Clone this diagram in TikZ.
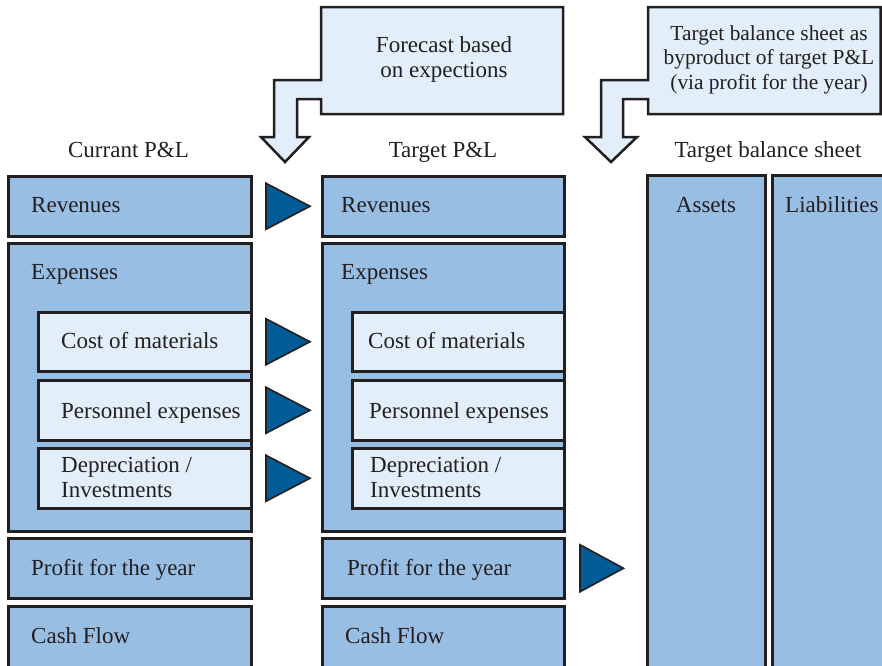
\documentclass[tikz,border=0pt]{standalone}
\usepackage{fontspec}
\setmainfont{Liberation Serif}
\usetikzlibrary{calc}
\definecolor{boxC}{RGB}{153,190,228}
\definecolor{subC}{RGB}{226,238,249}
\definecolor{triC}{RGB}{0,91,150}
\definecolor{lineC}{RGB}{35,31,32}
\definecolor{txtC}{RGB}{35,31,32}
\newcommand{\mainsz}{\fontsize{23}{24.7}\selectfont}
\newcommand{\smallsz}{\fontsize{21.4}{24.5}\selectfont}
\begin{document}
\begin{tikzpicture}[x=1pt,y=-1pt,
  box/.style={draw=lineC, line width=2.5pt, fill=boxC, inner sep=0pt, anchor=north west},
  sub/.style={box, fill=subC},
  txt/.style={anchor=base west, inner sep=0pt, text=txtC, font=\mainsz, align=left},
  ctxt/.style={anchor=base, inner sep=0pt, text=txtC, font=\mainsz, align=center},
  tri/.style={fill=triC, draw=lineC, line width=1.6pt, line join=miter},
  callout/.style={fill=subC, draw=lineC, line width=2.5pt, line join=miter}]
\useasboundingbox (0,0) rectangle (882,665);
\clip (0,0) rectangle (882,665);

% callouts
\draw[callout] (321,7) -- (563,7) -- (563,114) -- (321,114) -- (321,99) -- (297,99)
  -- (297,137) -- (309,137) -- (285,162) -- (261,137) -- (274,137) -- (274,80) -- (321,80) -- cycle;
\draw[callout] (648,7) -- (880.6,7) -- (880.6,114) -- (648,114) -- (648,99) -- (623,99)
  -- (623,137) -- (637,137) -- (611,162) -- (585,137) -- (601,137) -- (601,80) -- (648,80) -- cycle;
\node[ctxt] (fcText) at (444,77) {Forecast based\\on expections};
\node[ctxt, font=\smallsz] (bsText) at (769,89) {Target balance sheet as\\byproduct of target P\&L\\(via profit for the year)};

% titles
\node[ctxt] (tCur) at (128.5,157) {Currant P\&L};
\node[ctxt] (tTar) at (443,157) {Target P\&L};
\node[ctxt] (tBal) at (768,157) {Target balance sheet};

% current P&L
\node[box, minimum width=243, minimum height=60] (cRev) at (7,175) {};
\node[box, minimum width=243, minimum height=288] (cExp) at (7,242) {};
\node[sub, minimum width=213, minimum height=59] (cCost) at (37,311) {};
\node[sub, minimum width=213, minimum height=60] (cPers) at (37,379) {};
\node[sub, minimum width=213, minimum height=60] (cDep) at (37,447) {};
\node[box, minimum width=243, minimum height=60] (cProf) at (7,537) {};
\node[box, minimum width=243, minimum height=90] (cCash) at (7,605) {};

% target P&L
\node[box, minimum width=242, minimum height=60] (mRev) at (321,175) {};
\node[box, minimum width=242, minimum height=288] (mExp) at (321,242) {};
\node[sub, minimum width=212, minimum height=59] (mCost) at (351,311) {};
\node[sub, minimum width=212, minimum height=60] (mPers) at (351,379) {};
\node[sub, minimum width=212, minimum height=60] (mDep) at (351,447) {};
\node[box, minimum width=242, minimum height=60] (mProf) at (321,537) {};
\node[box, minimum width=242, minimum height=90] (mCash) at (321,605) {};

% balance sheet
\node[box, minimum width=118, minimum height=520] (bAss) at (646,174) {};
\node[box, minimum width=140, minimum height=520] (bLia) at (771,174) {};

% texts
\node[txt] (l1) at (31,212) {Revenues};
\node[txt] (l2) at (31,279) {Expenses};
\node[txt] (l3) at (61,348) {Cost of materials};
\node[txt] (l4) at (61,418) {Personnel expenses};
\node[txt] (l5) at (61,497) {Depreciation /\\Investments};
\node[txt] (l6) at (31,575) {Profit for the year};
\node[txt] (l7) at (31,643) {Cash Flow};

\node[txt] (r1) at (341,212) {Revenues};
\node[txt] (r2) at (341,279) {Expenses};
\node[txt] (r3) at (368,348) {Cost of materials};
\node[txt] (r4) at (369,418) {Personnel expenses};
\node[txt] (r5) at (370,497) {Depreciation /\\Investments};
\node[txt] (r6) at (347,575) {Profit for the year};
\node[txt] (r7) at (345,643) {Cash Flow};

\node[ctxt] (a1) at (706,212) {Assets};
\node[txt] (a2) at (785,212) {Liabilities};

% triangles
\foreach \n in {cRev,cCost,cPers,cDep}{
  \draw[tri] ($(\n.east)+(13.5,-23)$) -- ($(\n.east)+(13.5,23)$) -- ($(\n.east)+(57.5,0)$) -- cycle;
}
\draw[tri] ($(mProf.east)+(14.5,-23.5)$) -- ($(mProf.east)+(14.5,23.5)$) -- ($(mProf.east)+(58,0)$) -- cycle;
\end{tikzpicture}
\end{document}
